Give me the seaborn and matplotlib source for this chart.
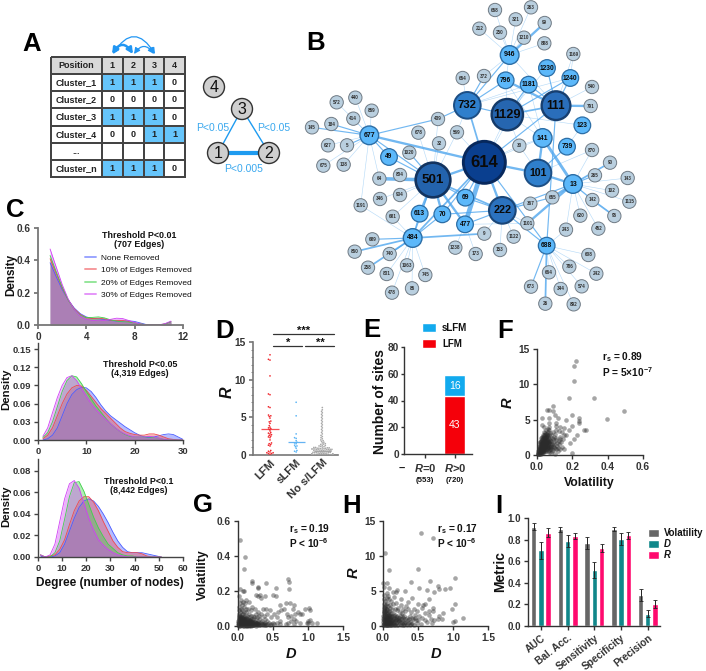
import pandas as pd
import matplotlib
matplotlib.use("Agg")
import matplotlib.pyplot as plt
import seaborn as sns
from matplotlib.colors import ListedColormap
from matplotlib.patches import Circle, FancyArrowPatch

W = 706
H = 671

# --- panel A
table_rows = ["Position", "Cluster_1", "Cluster_2", "Cluster_3", "Cluster_4", "...", "Cluster_n"]
table_cols = ["1", "2", "3", "4"]
# 2 = header, 1 = blue, 0 = white
table_flags = [[2, 2, 2, 2], [1, 1, 1, 0], [0, 0, 0, 0], [1, 1, 1, 0], [0, 0, 1, 1], [0, 0, 0, 0], [1, 1, 1, 0]]
table_text = [["1", "2", "3", "4"], ["1", "1", "1", "0"], ["0", "0", "0", "0"], ["1", "1", "1", "0"],
              ["0", "0", "1", "1"], ["", "", "", ""], ["1", "1", "1", "0"]]

node_style = {
    "s": (20, "#b9cfdf", "#6f7a84", 0.7, 3.3),
    "b": (25, "#5cb8fa", "#2c6ea6", 0.9, 4.8),
    "c": (28, "#5cb8fa", "#2c6ea6", 1.0, 5.0),
    "732": (40, "#2f7fcc", "#1d4f85", 1.4, 8.2),
    "101": (40, "#2f7fcc", "#1d4f85", 1.4, 7.6),
    "222": (40, "#2b72bf", "#1a4678", 1.5, 7.8),
    "111": (43, "#2a6ebb", "#173f70", 1.7, 8.6),
    "1129": (47, "#2666b0", "#153a68", 1.7, 9.2),
    "501": (52, "#2363ad", "#12335f", 1.9, 9.6),
    "614": (63, "#0a3f8f", "#07285c", 2.1, 12.0),
}
nodes = [
    ("658", 615, 30, "s"), ("263", 723, 22, "s"), ("321", 677, 58, "s"), ("99", 764, 69, "s"), ("212", 568, 86, "s"),
    ("250", 630, 98, "s"), ("1210", 702, 113, "s"), ("888", 763, 130, "s"), ("946", 659, 165, "c"),
    ("1169", 850, 162, "s"), ("1230", 771, 204, "b"), ("1240", 841, 234, "b"), ("654", 518, 234, "s"),
    ("372", 582, 228, "s"), ("796", 647, 241, "b"), ("1181", 716, 254, "b"), ("540", 906, 261, "s"),
    ("732", 532, 316, "732"), ("1129", 652, 344, "1129"), ("111", 798, 317, "111"), ("791", 902, 318, "s"),
    ("123", 877, 376, "b"), ("439", 444, 357, "s"), ("572", 140, 307, "s"), ("440", 196, 293, "s"),
    ("859", 245, 332, "s"), ("414", 190, 356, "s"), ("184", 124, 372, "s"), ("145", 66, 382, "s"),
    ("677", 238, 406, "c"), ("627", 114, 436, "s"), ("5", 171, 436, "s"), ("675", 100, 497, "s"),
    ("138", 161, 494, "s"), ("678", 385, 398, "s"), ("569", 501, 397, "s"), ("32", 447, 430, "s"),
    ("1020", 358, 458, "s"), ("49", 297, 471, "b"), ("30", 688, 437, "s"), ("141", 758, 414, "c"),
    ("739", 831, 440, "b"), ("870", 906, 450, "s"), ("614", 583, 487, "614"), ("90", 960, 488, "s"),
    ("143", 1013, 534, "s"), ("265", 915, 526, "s"), ("13", 849, 552, "c"), ("101", 744, 519, "101"),
    ("501", 429, 540, "501"), ("64", 268, 536, "s"), ("804", 330, 525, "s"), ("934", 330, 585, "s"),
    ("346", 270, 597, "s"), ("1191", 212, 616, "s"), ("681", 308, 650, "s"), ("613", 389, 641, "b"),
    ("70", 457, 643, "b"), ("69", 526, 593, "b"), ("477", 525, 673, "b"), ("222", 637, 631, "222"),
    ("367", 721, 611, "s"), ("655", 787, 592, "s"), ("102", 966, 572, "s"), ("1115", 1018, 605, "s"),
    ("142", 907, 600, "s"), ("95", 973, 648, "s"), ("620", 871, 647, "s"), ("452", 925, 686, "s"),
    ("243", 828, 689, "s"), ("1101", 712, 670, "s"), ("1122", 671, 710, "s"), ("9", 583, 701, "s"),
    ("484", 368, 714, "c"), ("689", 247, 718, "s"), ("860", 194, 755, "s"), ("740", 299, 762, "s"),
    ("258", 234, 803, "s"), ("831", 290, 822, "s"), ("1063", 351, 796, "s"), ("745", 406, 825, "s"),
    ("85", 366, 865, "s"), ("478", 306, 878, "s"), ("1238", 496, 743, "s"), ("173", 557, 762, "s"),
    ("153", 630, 750, "s"), ("688", 770, 737, "b"), ("608", 895, 765, "s"), ("242", 919, 821, "s"),
    ("786", 838, 800, "s"), ("664", 777, 817, "s"), ("574", 875, 859, "s"), ("344", 812, 867, "s"),
    ("892", 851, 913, "s"), ("26", 766, 911, "s"), ("673", 723, 860, "s"),
]
edges = [
    ("946", "658", 1), ("946", "263", 1), ("946", "321", 1), ("946", "99", 4), ("946", "212", 1), ("946", "250", 1),
    ("946", "1210", 1), ("946", "888", 1), ("946", "732", 2), ("946", "372", 1), ("946", "796", 1), ("946", "111", 1),
    ("732", "654", 1), ("732", "372", 2), ("732", "796", 2), ("732", "1181", 1), ("732", "1129", 2), ("732", "614", 3),
    ("732", "439", 2), ("732", "569", 1), ("1129", "796", 1), ("1129", "1181", 2), ("1129", "1240", 2),
    ("1129", "111", 3), ("1129", "614", 1), ("1129", "30", 1), ("1129", "141", 1), ("1129", "123", 1),
    ("1129", "1230", 1), ("796", "111", 4), ("1230", "111", 2), ("1240", "111", 2), ("1169", "1240", 1),
    ("1169", "111", 1), ("540", "111", 1), ("791", "111", 4), ("1181", "111", 2), ("614", "111", 2), ("111", "688", 2),
    ("1181", "141", 1), ("796", "141", 1), ("1240", "732", 1),
    ("677", "572", 1), ("677", "440", 1), ("677", "859", 1), ("677", "414", 1), ("677", "184", 2), ("677", "145", 2),
    ("677", "627", 1), ("677", "5", 2), ("677", "675", 1), ("677", "138", 1), ("677", "439", 2), ("677", "614", 4),
    ("677", "49", 2), ("677", "501", 2), ("677", "1191", 1), ("677", "64", 1),
    ("501", "614", 4), ("501", "49", 2), ("501", "678", 1), ("501", "32", 1), ("501", "1020", 2), ("501", "64", 6),
    ("501", "934", 1), ("501", "346", 1), ("501", "681", 1), ("501", "613", 4), ("501", "70", 4), ("501", "69", 2),
    ("501", "477", 4), ("501", "222", 3), ("501", "569", 1), ("501", "484", 2), ("501", "439", 1),
    ("614", "222", 4), ("614", "477", 8), ("614", "101", 4), ("614", "69", 2), ("614", "70", 2), ("614", "484", 3),
    ("614", "30", 1), ("614", "569", 1), ("614", "141", 1), ("614", "688", 2), ("614", "1181", 1),
    ("141", "101", 4), ("141", "13", 5), ("739", "123", 1), ("739", "101", 2), ("870", "101", 1), ("101", "13", 4),
    ("30", "101", 1), ("141", "30", 1),
    ("13", "90", 3), ("13", "265", 2), ("13", "143", 1), ("13", "102", 1), ("13", "1115", 1), ("13", "142", 2),
    ("142", "95", 3), ("13", "95", 1), ("13", "620", 1), ("13", "452", 1), ("13", "243", 1), ("13", "655", 4),
    ("13", "1101", 4), ("13", "222", 2), ("13", "870", 1),
    ("222", "367", 1), ("222", "655", 2), ("222", "1101", 1), ("222", "9", 1), ("222", "153", 1), ("222", "1122", 1),
    ("222", "688", 2), ("222", "70", 2), ("222", "477", 2), ("69", "222", 2),
    ("484", "681", 1), ("484", "613", 2), ("484", "689", 2), ("484", "860", 3), ("484", "740", 2), ("484", "258", 3),
    ("484", "831", 1), ("484", "1063", 1), ("484", "745", 1), ("484", "85", 1), ("484", "478", 1), ("484", "9", 3),
    ("484", "70", 2), ("484", "1191", 1), ("477", "1238", 1), ("477", "173", 1), ("477", "1101", 1),
    ("688", "243", 1), ("688", "608", 1), ("688", "242", 1), ("688", "786", 1), ("688", "664", 1), ("688", "574", 1),
    ("688", "344", 1), ("688", "892", 1), ("688", "26", 3), ("688", "673", 2),
]

# --- panel C
c_labels = ["None Removed", "10% of Edges Removed", "20% of Edges Removed", "30% of Edges Removed"]
c_colors = ["#4a5cff", "#f0484c", "#3fd24a", "#d040f5"]

top_x = [1, 1.5, 2, 2.5, 3, 3.5, 4, 4.5, 5, 5.5, 6, 6.5, 7, 7.5, 8, 8.5, 9, 9.5, 10, 10.5, 11]
top_none = [.385, .30, .22, .155, .105, .07, .05, .04, .038, .034, .028, .024, .024, .026, .022, .012, .002, 0, 0, .006, .02]
top_10 = [.41, .32, .23, .155, .10, .065, .045, .04, .042, .038, .03, .028, .028, .022, .014, .006, .001, .001, .001, .006, .02]
top_20 = [.43, .33, .235, .155, .095, .06, .045, .047, .05, .044, .032, .024, .02, .018, .012, .006, .002, .001, .001, .006, .02]
top_30 = [.47, .36, .25, .16, .095, .055, .035, .028, .026, .028, .035, .042, .04, .028, .014, .005, .002, .001, .001, .008, .024]

mid_x = [1, 2, 3, 4, 5, 6, 7, 8, 9, 10, 11, 12, 13, 14, 15, 16, 17, 18, 19, 20, 21, 22, 23, 24, 25, 26, 27, 28, 29, 30]
mid_none = [0, .002, .008, .02, .04, .06, .075, .083, .087, .086, .08, .07, .058, .048, .04, .034, .028, .022, .017, .012, .008, .005, .004, .005, .007, .009, .01, .009, .005, .001]
mid_10 = [.002, .008, .02, .04, .06, .076, .086, .09, .089, .082, .072, .062, .052, .044, .036, .028, .02, .014, .011, .009, .008, .008, .01, .01, .008, .005, .002, .001, 0, 0]
mid_20 = [.004, .012, .03, .055, .08, .098, .106, .104, .093, .08, .068, .056, .046, .036, .027, .02, .014, .009, .006, .005, .005, .005, .005, .004, .003, .001, 0, 0, 0, 0]
mid_30 = [.006, .02, .045, .07, .09, .103, .106, .098, .085, .072, .06, .05, .042, .034, .027, .02, .014, .01, .007, .005, .005, .005, .006, .005, .003, .001, 0, 0, 0, 0]

bot_x = [1, 3, 5, 7, 9, 11, 13, 15, 17, 19, 21, 23, 25, 27, 29, 31, 33, 35, 37, 39, 41, 43, 45, 47, 49, 51]
bot_none = [.001, 0, 0, .001, .004, .012, .024, .036, .046, .052, .054, .052, .047, .04, .032, .023, .015, .009, .005, .004, .004, .004, .003, .002, .001, 0]
bot_10 = [.002, 0, .001, .002, .007, .016, .03, .043, .052, .056, .056, .051, .043, .033, .024, .015, .009, .005, .004, .004, .004, .003, .001, 0, 0, 0]
bot_20 = [.002, 0, 0, .004, .015, .035, .056, .069, .07, .061, .049, .037, .027, .019, .012, .008, .004, .002, .001, .001, 0, 0, 0, 0, 0, 0]
bot_30 = [.002, 0, .002, .012, .033, .054, .068, .071, .064, .05, .036, .025, .016, .011, .007, .004, .002, .001, 0, 0, 0, 0, 0, 0, 0, 0]

# --- panel D
d_cats = ["LFM", "sLFM", "No s/LFM"]
d_medians = [3.5, 1.7, 0.5]
d_lfm = [13.3, 12.7, 12.6, 10.5, 8.1, 8.0, 6.4, 6.3, 5.3, 5.2, 5.1, 4.9, 4.5, 4.4, 4.2, 3.9, 3.7, 3.6, 3.5, 3.4, 3.2, 3.0,
         2.9, 2.8, 2.7, 2.6, 2.5, 2.4, 2.3, 2.0, 1.6, 1.5, 1.4, 1.3, 1.2, .6, .5, .4, .3, .3, .2, .2, .1]
d_slfm = [7.0, 5.2, 2.8, 2.3, 2.2, 1.9, 1.7, 1.6, 1.5, 1.3, 1.2, 1.1, .9, .6, .5, .4]
d_none = [6.3, 6.0, 5.8, 5.6, 5.4, 5.2, 5.0, 4.8, 4.6, 4.4, 4.2, 4.0, 3.8, 3.6, 3.4, 3.2, 3.0, 2.8, 2.6, 2.45, 2.3, 2.15,
          2.0, 1.9, 1.8, 1.7, 1.6, 1.5, 1.45, 1.4, 1.3, 1.25, 1.2, 1.15, 1.1, 1.05, 1.0, 1.0, .95, .95, .9, .9, .9, .85,
          .85, .8, .8, .8, .8, .75, .75, .75, .7, .7, .7, .65, .65, .6, .6, .6, .55, .55, .5, .5, .5, .45, .45, .4, .4,
          .4, .35, .35, .3, .3, .3, .25, .25, .2, .2, .2, .2, .15, .15, .1, .1, .1, .1, .05, .05, .05, .05, .05, 0, 0, 0,
          0, 0, 0, 0, 0, 0]

# --- panel E
e_cats = ["$\\mathbfit{R}$=0", "$\\mathbfit{R}$>0"]
e_counts = ["(553)", "(720)"]
e_lfm = [0, 43]
e_slfm = [0, 16]

# --- panel F (volatility, R)
f_points = [
    (.22, 13.3), (.21, 12.6), (.21, 10.5), (.18, 8.1), (.325, 8.0), (.49, 6.2), (.395, 5.1), (.09, 6.9), (.055, 6.4),
    (.07, 6.3), (.09, 6.2), (.2, 5.7), (.1, 5.6), (.12, 5.2), (.07, 5.3), (.03, 5.2), (.165, 4.9), (.24, 5.2), (.24, 4.8),
    (.24, 4.5), (.2, 4.1), (.11, 4.5), (.265, 3.6), (.275, 3.5), (.18, 3.5), (.155, 3.8), (.13, 3.9), (.15, 2.8),
    (.225, 2.9), (.21, 2.3), (.185, 1.7), (.2, .3), (.165, 2.8), (.14, 3.2), (.125, 3.4), (.11, 3.6), (.105, 4.1),
    (.1, 3.0), (.09, 3.3), (.08, 2.9), (.075, 3.1), (.07, 4.5), (.07, 4.0), (.06, 3.7), (.05, 3.5), (.04, 3.9), (.03, 4.3),
    (.15, .9), (.145, 2.2), (.14, 1.2), (.135, 1.8), (.13, 2.3), (.132, .9), (.128, 2.6), (.125, 1.5), (.122, 2.0),
    (.12, .5), (.118, 1.0), (.115, 1.3), (.112, 1.7), (.11, .8), (.108, 2.1), (.105, 2.4), (.102, 1.0), (.1, .2),
    (.098, 1.5), (.095, 1.9), (.092, 1.3), (.09, .7), (.088, 2.2), (.085, 1.6), (.082, 1.1), (.08, .3), (.078, 2.0),
    (.075, .8), (.073, 1.5), (.07, 2.4), (.07, .4), (.068, 1.2), (.066, 1.8), (.066, 3.6), (.065, 1.0), (.063, 1.6),
    (.062, 3.2), (.06, .6), (.06, 2.2), (.058, 1.3), (.058, 2.8), (.056, 1.9), (.055, 1.1), (.053, 1.7), (.053, 2.5),
    (.05, .8), (.05, 2.3), (.05, 3.0), (.048, 1.4), (.045, .5), (.045, 2.0), (.045, 2.8), (.043, 1.1), (.04, .9), (.04, 1.7),
    (.04, 2.5), (.04, 3.2), (.038, 1.4), (.035, .6), (.035, 2.2), (.035, 2.9), (.033, 1.2), (.032, 1.9), (.03, .3),
    (.03, 2.6), (.028, 1.0), (.027, 1.6), (.026, 2.3), (.025, .7), (.022, 1.4), (.022, 2.0), (.02, .4), (.02, 1.1),
    (.018, .8), (.018, 1.8), (.015, .5), (.015, 1.5), (.012, .2), (.012, 1.2), (.01, .9), (.008, .3), (.006, .6), (.004, .1),
    (.02, .2), (.03, .8), (.04, 1.2), (.05, 1.6), (.06, 1.9), (.035, 1.7), (.045, 2.4), (.025, 1.2), (.055, 2.7), (.03, 2.1),
    (.015, 1.0), (.025, 1.9), (.042, .4), (.05, 1.1), (.06, 1.4), (.07, 1.7), (.08, .9), (.01, .5), (.02, .7), (.03, 1.4),
    (.04, 2.0), (.05, 2.0), (.035, 1.0), (.045, 1.5), (.055, .9), (.065, 2.0), (.005, .2), (.015, .1), (.025, .3), (.01, .1),
    (.012, .7), (.014, 1.3), (.016, 1.9), (.019, .3), (.021, .9), (.023, 1.6), (.024, 2.4), (.027, .5), (.029, 1.2),
    (.031, 1.8), (.033, 2.5), (.034, .4), (.036, 1.3), (.037, 2.0), (.039, 2.8), (.041, .7), (.042, 1.5), (.044, 2.2),
    (.046, 3.1), (.047, .9), (.049, 1.8), (.051, 2.6), (.052, .5), (.054, 1.4), (.057, 2.1), (.059, 3.0), (.061, 1.1),
    (.064, 2.5), (.067, .7), (.069, 2.8), (.072, 1.1), (.074, 2.1), (.076, 1.8), (.079, 1.3), (.083, 2.4), (.086, .6),
    (.094, 1.1), (.096, 2.5), (.013, .4), (.017, 1.1), (.026, .9), (.028, 1.7), (.032, .6), (.038, 2.4), (.043, 1.9),
]

# --- panel G (D, volatility)
g_points = [
    (.03, .49), (.1, .395), (.08, .325), (.2, .26), (.2, .245), (.28, .225), (.28, .215), (.4, .245), (.54, .22), (.72, .27),
    (.73, .25), (.73, .21), (.74, .13), (.03, .21), (.07, .2), (.09, .2), (.5, .18), (.54, .17), (.38, .17), (.31, .18),
    (.25, .175), (.33, .16), (.28, .17), (.68, .13), (.8, .12), (.79, .1), (.95, .1), (1.02, .105), (1.03, .09), (.65, .1),
    (.6, .12), (.62, .09), (.57, .08), (.86, .08), (.89, .07), (.92, .07), (.81, .07), (.75, .06), (.7, .07), (.72, .05),
    (.76, .03), (.8, .04), (.83, .03), (.88, .02), (1.0, .03), (1.03, .035), (1.05, .02), (1.13, .015), (1.0, .015), (.98, .015),
    (.8, .01), (.72, .02), (.68, .01), (.6, .03), (.55, .05), (.52, .07), (.5, .02), (.47, .05), (.45, .09), (.4, .1), (.42, .07),
    (.35, .1), (.37, .06), (.33, .07), (.15, .14), (.12, .15), (.1, .13), (.07, .14), (.04, .15), (.02, .17), (.03, .13),
    (.05, .12), (.08, .11), (.11, .1), (.14, .1), (.2, .11), (.19, .09), (.24, .1), (.28, .08), (.3, .06), (.25, .07),
    (.01, .11), (.02, .09), (.04, .1), (.06, .09), (.09, .08), (.12, .08), (.16, .07), (.18, .06), (.21, .06), (.23, .05),
    (.27, .05), (.31, .04), (.34, .03), (.38, .04), (.41, .03), (.44, .02), (.47, .01), (.52, .01), (.56, .015), (.6, .01),
    (.01, .07), (.03, .08), (.05, .07), (.07, .07), (.1, .06), (.13, .06), (.15, .05), (.19, .04), (.22, .04), (.25, .04),
    (.28, .03), (.3, .02), (.33, .015), (.36, .02), (.39, .015), (.42, .01), (.45, .005), (.01, .05), (.02, .06), (.04, .05),
    (.06, .05), (.08, .05), (.1, .04), (.12, .045), (.14, .04), (.17, .035), (.2, .03), (.23, .025), (.26, .02), (.29, .01),
    (.32, .005), (.35, .005), (.38, .005), (.005, .03), (.02, .04), (.03, .035), (.05, .03), (.07, .035), (.09, .03), (.11, .025),
    (.13, .03), (.15, .025), (.17, .02), (.19, .02), (.21, .015), (.24, .01), (.27, .005), (.005, .015), (.015, .025),
    (.03, .02), (.04, .025), (.06, .02), (.08, .02), (.1, .02), (.12, .015), (.14, .015), (.16, .01), (.18, .01), (.2, .005),
    (.22, .005), (.25, .002), (.005, .005), (.01, .01), (.02, .012), (.03, .008), (.04, .01), (.05, .012), (.06, .006),
    (.07, .01), (.08, .008), (.09, .012), (.1, .005), (.11, .008), (.12, .004), (.13, .008), (.14, .003), (.15, .006),
    (.16, .002), (.17, .005), (.18, .003), (.19, .002), (.01, .002), (.03, .002), (.05, .003), (.07, .002), (.09, .002),
    (.11, .002), (.13, .001), (.015, .04), (.025, .05), (.035, .06), (.045, .035), (.055, .04), (.065, .03), (.075, .025),
    (.085, .04), (.095, .015), (.105, .03), (.115, .012), (.125, .022), (.135, .012), (.145, .02),
    (.16, .03), (.18, .025), (.2, .02), (.22, .018), (.24, .022), (.26, .012), (.28, .012), (.3, .008), (.34, .01),
    (.37, .012), (.4, .008), (.23, .008), (.21, .008), (.19, .012), (.17, .012), (.15, .012), (.13, .018), (.11, .015),
    (.09, .018), (.07, .018), (.05, .018), (.03, .015), (.01, .018), (.02, .005), (.04, .004), (.06, .012), (.08, .014),
    (.1, .012), (.12, .01), (.14, .008), (.16, .006), (.18, .006), (.01, .03), (.03, .045), (.05, .045), (.07, .045),
    (.09, .04), (.11, .035), (.13, .04), (.15, .035), (.17, .028), (.19, .03), (.21, .025), (.25, .015), (.27, .015), (.29, .02),
]

# --- panel H (D, R)
h_points = [
    (.54, 13.3), (.72, 12.6), (.03, 10.5), (.08, 8.0), (.5, 8.1), (1.03, 6.9), (.4, 6.3), (.67, 6.4), (0.0, 6.2), (.05, 6.2),
    (.02, 5.6), (.08, 5.5), (.78, 5.7), (.8, 5.3), (.88, 5.3), (.95, 5.5), (.63, 5.2), (.73, 4.8), (.52, 5.4), (.32, 5.0),
    (.2, 5.2), (.18, 4.9), (.14, 4.8), (.05, 4.7), (.07, 4.3), (.42, 4.0), (.65, 3.9), (.05, 4.0), (1.03, 3.1), (.99, 2.4),
    (.85, 1.9), (.72, 2.6), (.8, 1.4), (.84, 1.0), (1.14, 1.2), (1.03, .7), (1.0, .6), (.7, .4), (.73, .8), (.78, 1.0),
    (.6, 3.2), (.57, 3.0), (.5, 3.1), (.55, 2.6), (.66, 2.2), (.71, 2.2), (.65, 1.6), (.6, 1.8), (.48, 2.2), (.35, 3.4),
    (.33, 2.8), (.25, 3.0), (.26, 3.9), (.15, 4.1), (.12, 3.6), (.09, 3.8), (.02, 4.4), (.03, 3.6), (.06, 3.3), (.1, 3.0),
    (.14, 3.1), (.18, 3.3), (.22, 2.6), (.28, 2.5), (.31, 2.2), (.36, 2.4), (.4, 2.0), (.44, 2.5), (.46, 1.6), (.52, 1.4),
    (.56, 1.1), (.6, .9), (.63, .6), (.68, 1.0), (.5, .8), (.45, 1.1), (.42, .5), (.38, 1.4), (.34, 1.1), (.3, 1.5),
    (.27, 1.8), (.24, 2.0), (.2, 2.3), (.17, 2.5), (.13, 2.4), (.1, 2.6), (.07, 2.8), (.04, 3.0), (.01, 3.2), (.01, 2.5),
    (.03, 2.6), (.05, 2.3), (.08, 2.1), (.11, 1.9), (.14, 1.8), (.17, 1.6), (.2, 1.5), (.23, 1.2), (.26, 1.0), (.29, .8),
    (.32, .6), (.36, .4), (.4, .3), (.44, .2), (.48, .4), (.54, .3), (.01, 1.8), (.02, 2.0), (.03, 2.2), (.04, 1.9), (.06, 1.7),
    (.08, 1.5), (.1, 1.4), (.12, 1.3), (.15, 1.1), (.18, .9), (.21, .8), (.24, .5), (.27, .4), (.3, .2), (.34, .1), (.38, .1),
    (.005, 1.4), (.015, 1.5), (.025, 1.6), (.035, 1.3), (.05, 1.2), (.07, 1.1), (.09, 1.0), (.11, .8), (.13, .7), (.16, .5),
    (.19, .4), (.22, .2), (.25, .1), (.28, .1), (.005, 1.0), (.015, .9), (.025, 1.1), (.04, .9), (.06, .8), (.08, .6), (.1, .5),
    (.12, .4), (.14, .3), (.17, .2), (.2, .1), (.005, .6), (.015, .5), (.03, .6), (.05, .5), (.07, .4), (.09, .3), (.11, .2),
    (.13, .1), (.15, .1), (.005, .2), (.015, .1), (.03, .2), (.05, .1), (.07, .1), (.09, .1), (.02, .3), (.04, .4), (.06, .2),
    (.01, .8), (.02, 1.2), (.03, .4), (.04, 1.5), (.05, .7), (.06, 1.1), (.07, 1.9), (.08, .9), (.09, 1.6), (.1, .1),
    (.012, 3.8), (.022, 2.9), (.032, 1.8), (.042, 2.4), (.052, 1.5), (.062, 2.5), (.072, 1.4), (.082, 1.2), (.092, 2.0),
    (.102, 1.1), (.112, 1.5), (.122, .9), (.132, 1.5), (.142, .8), (.152, 1.4), (.162, 1.0), (.172, .7), (.182, 1.3),
    (.192, 1.0), (.205, .6), (.215, 1.1), (.225, .7), (.235, .9), (.245, 1.4), (.255, .6), (.265, 1.5), (.285, 1.1), (.295, .4),
    (.31, 1.0), (.33, .5), (.35, .8), (.37, 1.0), (.39, .6), (.41, 1.2), (.43, 1.0), (.47, .9), (.008, 2.2), (.018, 2.7),
    (.028, .8), (.038, .2), (.048, .9), (.058, .5), (.068, .7), (.078, .3), (.088, .5), (.098, .8), (.118, .6), (.138, .5),
]

# --- panel I
i_cats = ["AUC", "Bal. Acc.", "Sensitivity", "Specificity", "Precision"]
i_volatility = [.92, .895, .77, .90, .29]
i_volatility_err = [.03, .02, .055, .02, .055]
i_d = [.70, .79, .515, .805, .115]
i_d_err = [.075, .055, .075, .055, .035]
i_r = [.865, .835, .72, .84, .205]
i_r_err = [.045, .03, .035, .035, .04]
i_colors = {"Volatility": "#666666", "D": "#10878a", "R": "#ff0a6e"}

sns.set_theme(style="ticks")
plt.rcParams["font.family"] = ["Liberation Sans", "DejaVu Sans"]
plt.rcParams["font.weight"] = "bold"
plt.rcParams["axes.labelweight"] = "bold"
plt.rcParams["mathtext.fontset"] = "custom"
plt.rcParams["mathtext.rm"] = "Liberation Sans:bold"
plt.rcParams["mathtext.bf"] = "Liberation Sans:bold"
plt.rcParams["mathtext.bfit"] = "Liberation Sans:italic:bold"
plt.rcParams["mathtext.default"] = "bf"
plt.rcParams["axes.edgecolor"] = "#333333"
plt.rcParams["xtick.color"] = "#333333"
plt.rcParams["ytick.color"] = "#333333"
plt.rcParams["text.color"] = "#111111"

fig = plt.figure(figsize=(W / 100, H / 100), dpi=100, facecolor="white")

# overlay in picture pixels for letters and notes
ov = fig.add_axes([0, 0, 1, 1], zorder=10)
ov.set_xlim(0, W)
ov.set_ylim(H, 0)
ov.axis("off")
ov.patch.set_alpha(0)


def axes_px(x0, y0, x1, y1):
    ax = fig.add_axes([x0 / W, 1 - y1 / H, (x1 - x0) / W, (y1 - y0) / H])
    ax.patch.set_alpha(0)
    return ax


def style(ax, size=7.3, color=None, lw=1.0):
    sns.despine(ax=ax)
    ax.tick_params(labelsize=size, length=3, width=lw, pad=2)
    for side in ["left", "bottom"]:
        ax.spines[side].set_linewidth(lw)
        if color:
            ax.spines[side].set_color(color)
    if color:
        ax.tick_params(color=color)
    ax.grid(False)


for letter, lx, ly in [("A", 22, 51), ("B", 306, 50), ("C", 6, 217), ("D", 215, 338), ("E", 363, 337), ("F", 497, 338),
                       ("G", 193, 512), ("H", 342, 513), ("I", 495, 513)]:
    ov.text(lx, ly, letter, fontsize=18.5, color="black", va="baseline", ha="left")

# ---------- A
cmap = ListedColormap(["white", "#66c5fb", "#d9d9d9"])
ax = axes_px(102, 57, 185, 177)
sns.heatmap(pd.DataFrame(table_flags, index=table_rows, columns=table_cols), ax=ax, cmap=cmap, vmin=0, vmax=2, cbar=False,
            annot=pd.DataFrame(table_text).values, fmt="", linewidths=1.1, linecolor="#444444",
            annot_kws={"fontsize": 6.5, "fontweight": "bold", "color": "#222222"}, xticklabels=False, yticklabels=False)
ax.collections[0].set_clip_on(False)
ax = axes_px(51, 57, 102, 177)
name_flags = [[2], [0], [0], [0], [0], [0], [0]]
sns.heatmap(pd.DataFrame(name_flags), ax=ax, cmap=cmap, vmin=0, vmax=2, cbar=False,
            annot=pd.DataFrame(table_rows).values, fmt="", linewidths=1.1, linecolor="#444444",
            annot_kws={"fontsize": 6.5, "fontweight": "bold", "color": "#222222"}, xticklabels=False, yticklabels=False)
ax.collections[0].set_clip_on(False)

for a, b, rad, lw in [(112, 133, -.76, 1.8), (134, 154, -.7, .9), (113, 155, -.8, .9)]:
    ov.add_patch(FancyArrowPatch((a, 54), (b, 54), connectionstyle=f"arc3,rad={rad}",
                                 arrowstyle="<|-|>,head_length=.7,head_width=.35",
                                 mutation_scale=5, color="#2196f3", lw=lw, shrinkA=0, shrinkB=0))

circle_nodes = {"4": (214, 87), "3": (242, 109), "1": (218, 153), "2": (269, 153)}
circle_edges = [("1", "3", 1.0), ("2", "3", 1.0), ("1", "2", 3.0)]
for a, b, lw in circle_edges:
    ov.plot([circle_nodes[a][0], circle_nodes[b][0]], [circle_nodes[a][1], circle_nodes[b][1]], color="#1e9bf0", lw=lw, zorder=1)
for name, (cx, cy) in circle_nodes.items():
    ov.add_patch(Circle((cx, cy), 10.5, fc="#cfcfcf", ec="#333333", lw=1.0, zorder=2))
    ov.text(cx, cy, name, fontsize=11.5, fontweight="normal", ha="center", va="center", zorder=3)
for px, py, s in [(213, 128, "P<0.05"), (274, 128, "P<0.05"), (244, 169, "P<0.005")]:
    ov.text(px, py, s, fontsize=7.5, fontweight="normal", color="#3aa8ee", ha="center", va="center")

# ---------- B
ax = axes_px(290, 0, 706, 320)
ax.set_xlim(0, 1248)
ax.set_ylim(960, 0)
ax.axis("off")
lookup = {n[0]: n for n in nodes}
for a, b, w in edges:
    ax.plot([lookup[a][1], lookup[b][1]], [lookup[a][2], lookup[b][2]], color="#4fa6ee", alpha=.42 if w == 1 else .8,
            lw=.42 * w, solid_capstyle="butt", zorder=1)
ax.scatter([n[1] for n in nodes], [n[2] for n in nodes],
           s=[(2 * node_style[n[3]][0] / 3 * .72) ** 2 for n in nodes],
           c=[node_style[n[3]][1] for n in nodes],
           edgecolors=[node_style[n[3]][2] for n in nodes],
           linewidths=[node_style[n[3]][3] for n in nodes], zorder=2)
for n in nodes:
    st = node_style[n[3]]
    ax.text(n[1], n[2], n[0], fontsize=st[4], ha="center", va="center", zorder=3,
            color="#333333" if n[3] == "s" else "#0a0a0a")

# ---------- C
panels_c = [
    ((38, 228, 183, 325), top_x, [top_none, top_10, top_20, top_30], (0, 12), (0, .6), [0, 4, 8, 12],
     [0, .2, .4, .6], ["0.0", "0.2", "0.4", "0.6"]),
    ((38, 343, 183, 440), mid_x, [mid_none, mid_10, mid_20, mid_30], (0, 30), (0, .16), [0, 10, 20, 30],
     [0, .03, .06, .09, .12, .15], ["0.00", "0.03", "0.06", "0.09", "0.12", "0.15"]),
    ((38, 459, 183, 557), bot_x, [bot_none, bot_10, bot_20, bot_30], (0, 60), (0, .091), [0, 10, 20, 30, 40, 50, 60],
     [0, .02, .04, .06, .08], ["0.00", "0.02", "0.04", "0.06", "0.08"]),
]
for i, (rect, xs, curves, xl, yl, xt, yt, ytl) in enumerate(panels_c):
    ax = axes_px(*rect)
    for curve, name, col in zip(curves, c_labels, c_colors):
        ax.fill_between(xs, curve, color=col, alpha=.4, lw=0)
        sns.lineplot(x=xs, y=curve, ax=ax, color=col, lw=.6, label=name, legend=True, errorbar=None)
    ax.set_xlim(*xl)
    ax.set_ylim(*yl)
    ax.set_xticks(xt)
    ax.set_yticks(yt, ytl)
    style(ax, size=7.2 if i == 0 else 6.8, color="#777777" if i == 0 else "#444444", lw=1.3 if i == 0 else 1.0)
    if i == 0:
        leg = ax.legend(loc="upper left", bbox_to_anchor=(85, 254), bbox_transform=ov.transData, frameon=False,
                        borderpad=0, borderaxespad=0, labelspacing=.55, handlelength=1.3, handletextpad=.6,
                        prop={"size": 6, "weight": "normal"})
        for line in leg.get_lines():
            line.set_linewidth(1.4)
            line.set_alpha(.55)
    else:
        ax.get_legend().remove()
ov.text(139, 240, "Threshold P<0.01\n(707 Edges)", fontsize=6.4, ha="center", va="center", linespacing=1.05)
ov.text(140, 369, "Threshold P<0.05\n(4,319 Edges)", fontsize=6.4, ha="center", va="center", linespacing=1.05)
ov.text(139, 486, "Threshold P<0.1\n(8,442 Edges)", fontsize=6.4, ha="center", va="center", linespacing=1.05)
ov.text(11, 275, "Density", fontsize=8.4, rotation=90, ha="center", va="center")
ov.text(6, 389, "Density", fontsize=8.2, rotation=90, ha="center", va="center")
ov.text(6, 506, "Density", fontsize=8.2, rotation=90, ha="center", va="center")
ov.text(110, 583, "Degree (number of nodes)", fontsize=8.6, ha="center", va="center")

# ---------- D
ax = axes_px(253, 342, 338, 455)
df_d = pd.DataFrame({"group": ["LFM"] * len(d_lfm) + ["sLFM"] * len(d_slfm) + ["No s/LFM"] * len(d_none),
                     "value": d_lfm + d_slfm + d_none})
sns.swarmplot(data=df_d, x="group", y="value", hue="group", order=d_cats, size=1.2, ax=ax, legend=False, warn_thresh=1,
              palette={"LFM": "#f0262c", "sLFM": "#5ab4f5", "No s/LFM": "#a8a8a8"}, linewidth=0)
for i, (med, col) in enumerate(zip(d_medians, ["#f0262c", "#3fa0f0", "#8f8f8f"])):
    ax.hlines(med, i - .33, i + .33, color=col, lw=.9, alpha=.8)
ax.set_xlim(-.65, 2.6)
ax.set_ylim(0, 15)
ax.set_yticks([0, 5, 10, 15])
ax.set_yticks(range(0, 16), minor=True)
ax.tick_params(axis="y", which="minor", length=1.5, width=.6, color="#777777")
ax.set_xlabel("")
ax.set_ylabel("")
style(ax, size=7.3, color="#777777", lw=1.2)
ax.tick_params(axis="x", length=0)
ax.set_xticks(range(3), d_cats, rotation=45, ha="right", rotation_mode="anchor", fontsize=8.2)
ov.text(227, 392, "R", fontsize=11.5, style="italic", rotation=90, ha="center", va="center")
for a, b, yy in [(273, 334, 334), (273, 302, 346), (305, 334, 346)]:
    ov.plot([a, b], [yy, yy], color="#333333", lw=.9)
ov.text(304, 331, "***", fontsize=8, ha="center", va="center")
ov.text(288, 343, "*", fontsize=8, ha="center", va="center")
ov.text(320, 343, "**", fontsize=8, ha="center", va="center")

# ---------- E
ax = axes_px(404, 347, 472, 454)
totals = [a + b for a, b in zip(e_lfm, e_slfm)]
sns.barplot(x=e_cats, y=totals, color="#12aaee", saturation=1, width=.7, ax=ax, label="sLFM")
sns.barplot(x=e_cats, y=e_lfm, color="#f5000a", saturation=1, width=.7, ax=ax, label="LFM")
ax.set_xlim(-.7, 1.57)
ax.set_ylim(0, 80)
ax.set_yticks([0, 20, 40, 60, 80])
style(ax, size=7.3)
ax.tick_params(axis="y", length=2.5, pad=1)
ax.tick_params(axis="x", labelsize=8, pad=3)
ax.text(1, e_lfm[1] + e_slfm[1] / 2, str(e_slfm[1]), color="white", fontsize=7.5, fontweight="normal", ha="center", va="center")
ax.text(1, e_lfm[1] / 2, str(e_lfm[1]), color="white", fontsize=7.5, fontweight="normal", ha="center", va="center")
ax.legend(loc="upper left", bbox_to_anchor=(422, 323), bbox_transform=ov.transData, frameon=False, borderpad=0,
          borderaxespad=0, labelspacing=.6, handlelength=1.45, handleheight=.95, handletextpad=.6,
          prop={"size": 7, "weight": "bold"})
ov.text(380, 401, "Number of sites", fontsize=10, rotation=90, ha="center", va="center")
ov.text(402, 469, "–", fontsize=8, ha="center", va="center")
ov.text(425, 481, e_counts[0], fontsize=5.6, ha="center", va="center")
ov.text(455, 481, e_counts[1], fontsize=5.6, ha="center", va="center")


# ---------- F G H
def scatter_panel(rect, points, xl, yl, xt, xtl, yt, ytl):
    ax = axes_px(*rect)
    sns.scatterplot(x=[p[0] for p in points], y=[p[1] for p in points], ax=ax, color="#2b2b2b", alpha=.42, s=11,
                    linewidth=0, clip_on=False)
    ax.set_xlim(*xl)
    ax.set_ylim(*yl)
    ax.set_xticks(xt, xtl)
    ax.set_yticks(yt, ytl)
    style(ax, size=7.3)
    return ax


scatter_panel((537, 349, 643, 455), f_points, (0, .6), (0, 15), [0, .2, .4, .6], ["0.0", "0.2", "0.4", "0.6"],
              [0, 5, 10, 15], ["0", "5", "10", "15"])
ov.text(589, 483, "Volatility", fontsize=8.8, ha="center", va="center")
ov.text(508, 403, "R", fontsize=10.5, style="italic", rotation=90, ha="center", va="center")
ov.text(602, 357, "r$_s$ = 0.89", fontsize=7.3, ha="left", va="center")
ov.text(602, 372, "P = 5×10$^{-7}$", fontsize=7.3, ha="left", va="center")

scatter_panel((238, 521, 343, 626), g_points, (0, 1.5), (0, .6), [0, .5, 1, 1.5], ["0.0", "0.5", "1.0", "1.5"],
              [0, .2, .4, .6], ["0.0", "0.2", "0.4", "0.6"])
ov.text(291, 654, "D", fontsize=10.5, style="italic", ha="center", va="center")
ov.text(203, 575, "Volatility", fontsize=8.8, rotation=90, ha="center", va="center")
ov.text(289, 529, "r$_s$ = 0.19", fontsize=7.3, ha="left", va="center")
ov.text(289, 543, "P < 10$^{-6}$", fontsize=7.3, ha="left", va="center")

scatter_panel((383, 521, 488, 626), h_points, (0, 1.5), (0, 15), [0, .5, 1, 1.5], ["0.0", "0.5", "1.0", "1.5"],
              [0, 5, 10, 15], ["0", "5", "10", "15"])
ov.text(436, 654, "D", fontsize=10.5, style="italic", ha="center", va="center")
ov.text(354, 573, "R", fontsize=10.5, style="italic", rotation=90, ha="center", va="center")
ov.text(437, 529, "r$_s$ = 0.17", fontsize=7.3, ha="left", va="center")
ov.text(437, 543, "P < 10$^{-6}$", fontsize=7.3, ha="left", va="center")

# ---------- I
ax = axes_px(528, 518, 660, 626)
df_i = pd.DataFrame({"metric": i_cats * 3,
                     "kind": ["Volatility"] * 5 + ["D"] * 5 + ["R"] * 5,
                     "value": i_volatility + i_d + i_r})
sns.barplot(data=df_i, x="metric", y="value", hue="kind", palette=i_colors, saturation=1, width=.81, gap=.25, ax=ax)
for bars, errs in zip(ax.containers, [i_volatility_err, i_d_err, i_r_err]):
    xs = [b.get_x() + b.get_width() / 2 for b in bars]
    ys = [b.get_height() for b in bars]
    ax.errorbar(xs, ys, yerr=errs, fmt="none", ecolor="#222222", elinewidth=.7, capsize=1.2, capthick=.6)
ax.set_xlim(-.486, 4.46)
ax.set_ylim(0, 1)
ax.set_yticks([0, .2, .4, .6, .8, 1], ["0.0", "0.2", "0.4", "0.6", "0.8", "1.0"])
ax.set_xlabel("")
ax.set_ylabel("")
style(ax, size=7.0)
ax.set_xticks(range(5), i_cats, rotation=38, ha="right", rotation_mode="anchor", fontsize=7.3)
leg = ax.legend(loc="upper left", bbox_to_anchor=(648, 528), bbox_transform=ov.transData, frameon=False, borderpad=0,
                borderaxespad=0, labelspacing=.12, handlelength=1.15, handleheight=.95, handletextpad=.55,
                prop={"size": 6.9, "weight": "bold"})
for t in leg.get_texts()[1:]:
    t.set_style("italic")
ov.text(500, 572, "Metric", fontsize=10, rotation=90, ha="center", va="center")

fig.savefig("out.png", dpi=100)
